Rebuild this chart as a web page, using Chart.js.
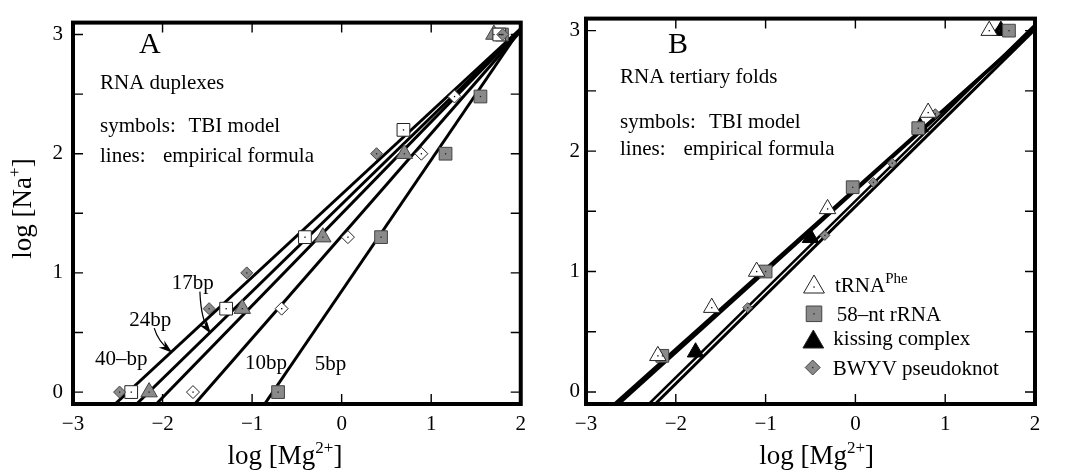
<!DOCTYPE html>
<html><head><meta charset="utf-8">
<script src="https://cdn.jsdelivr.net/npm/chart.js@4.4.0/dist/chart.umd.min.js"></script>
<style>
html,body{margin:0;padding:0;background:#fff;}
#wrap{position:relative;width:1068px;height:472px;overflow:hidden;}
.pane{position:absolute;top:0;width:534px;height:472px;}
canvas{display:block;}
</style></head><body>
<div id="wrap">
<div class="pane" style="left:0"><canvas id="cA" width="534" height="472"></canvas></div>
<div class="pane" style="left:534px"><canvas id="cB" width="534" height="472"></canvas></div>
</div>
<script>
// ---------- axes ----------
const xTicks = [-3, -2, -1, 0, 1, 2];
const xTickLabels = ['−3', '−2', '−1', '0', '1', '2'];
const yTicks = [0, 1, 2, 3];
const yTickLabels = ['0', '1', '2', '3'];
const yMarks = [0, 0.5, 1, 1.5, 2, 2.5, 3];
const xMarks = [-2, -1, 0, 1];

// ---------- Panel A: RNA duplexes, TBI model symbols ----------
const bp40Mg = [-2.48, -1.48, -1.06, 0.39, 1.80];
const bp40Na = [0, 0.7, 1.0, 2.0, 3.0];
const bp24Mg = [-2.35, -1.29, -0.41, 0.69, 1.76];
const bp24Na = [0, 0.7, 1.3, 2.2, 3.0];
const bp17Mg = [-2.15, -1.11, -0.21, 0.70, 1.70];
const bp17Na = [0, 0.7, 1.3, 2.0, 3.0];
const bp10Mg = [-1.66, -0.67, 0.07, 0.89, 1.26, 1.78];
const bp10Na = [0, 0.7, 1.3, 2.0, 2.48, 3.0];
const bp5Mg = [-0.71, 0.44, 1.16, 1.55, 1.79];
const bp5Na = [0, 1.3, 2.0, 2.48, 3.0];

// Panel A: empirical formula lines (end points)
const lineA1Mg = [-2.53, 2]; const lineA1Na = [-0.1, 3.05];
const lineA2Mg = [-2.29, 2]; const lineA2Na = [-0.1, 3.04];
const lineA3Mg = [-2.07, 2]; const lineA3Na = [-0.1, 3.04];
const lineA4Mg = [-1.64, 2]; const lineA4Na = [-0.1, 3.03];
const lineA5Mg = [-0.86, 2]; const lineA5Na = [-0.1, 3.05];

// ---------- Panel B: RNA tertiary folds ----------
const tRNAMg = [-2.20, -1.60, -1.10, -0.31, 0.81, 1.49];
const tRNANa = [0.3, 0.7, 1.0, 1.52, 2.32, 3.0];
const rRNAMg = [-2.15, -1.00, -0.03, 0.70, 1.71];
const rRNANa = [0.3, 1.0, 1.7, 2.19, 3.0];
const kissMg = [-1.78, -0.50, 0.72, 1.62];
const kissNa = [0.33, 1.28, 2.20, 3.0];
const bwyvMg = [-1.20, -0.34, 0.20, 0.41, 0.89, 1.60];
const bwyvNa = [0.7, 1.30, 1.74, 1.90, 2.31, 3.0];

const lineTRNAMg = [-2.68, 2]; const lineTRNANa = [-0.1, 3.02];
const lineRRNAMg = [-2.64, 2]; const lineRRNANa = [-0.1, 3.02];
const lineKissMg = [-2.30, 2]; const lineKissNa = [-0.1, 3.05];
const lineBwyvMg = [-2.23, 2]; const lineBwyvNa = [-0.1, 3.01];

// ---------- helpers ----------
const SERIF = '"Liberation Serif", "Times New Roman", serif';
const GRAY = '#8a8a8a';
function pts(xs, ys) { return xs.map((v, i) => ({x: v, y: ys[i]})); }
function lineDs(label, xs, ys, w) {
  return {label, data: pts(xs, ys), showLine: true, borderColor: '#000', borderWidth: w,
          pointRadius: 0, backgroundColor: '#000', order: 2};
}
function symDs(label, xs, ys, style, r, fill, stroke, dot) {
  return {label, data: pts(xs, ys), showLine: false, pointStyle: style, pointRadius: r,
          backgroundColor: fill, borderColor: stroke, borderWidth: 1, order: 1, clip: false, dot: dot};
}
function shape(ctx, style, x, y, r) {
  ctx.beginPath();
  if (style === 'triangle') {
    ctx.moveTo(x, y - r);
    ctx.lineTo(x + r * Math.sin(2 * Math.PI / 3), y - r * Math.cos(2 * Math.PI / 3));
    ctx.lineTo(x + r * Math.sin(4 * Math.PI / 3), y - r * Math.cos(4 * Math.PI / 3));
  } else if (style === 'rect') {
    const s = r * Math.SQRT1_2; ctx.rect(x - s, y - s, 2 * s, 2 * s);
  } else {
    ctx.moveTo(x - r, y); ctx.lineTo(x, y - r); ctx.lineTo(x + r, y); ctx.lineTo(x, y + r);
  }
  ctx.closePath();
}
function rich(ctx, parts, x, y, align) {
  let w = 0;
  parts.forEach(p => { ctx.font = p[1] + 'px ' + SERIF; w += ctx.measureText(p[0]).width; });
  let cx = align === 'center' ? x - w / 2 : x;
  ctx.textAlign = 'left';
  parts.forEach(p => {
    ctx.font = p[1] + 'px ' + SERIF;
    ctx.fillText(p[0], cx, y - (p[2] || 0));
    cx += ctx.measureText(p[0]).width;
  });
}
function text(ctx, s, x, y, size) {
  ctx.font = size + 'px ' + SERIF; ctx.textAlign = 'left'; ctx.textBaseline = 'alphabetic';
  ctx.fillText(s, x, y);
}
function arrow(ctx, p0, c, p1) {
  ctx.beginPath(); ctx.moveTo(p0[0], p0[1]); ctx.quadraticCurveTo(c[0], c[1], p1[0], p1[1]);
  ctx.lineWidth = 1.2; ctx.stroke();
  const a = Math.atan2(p1[1] - c[1], p1[0] - c[0]);
  const L = 11, W = 4.5;
  ctx.beginPath();
  ctx.moveTo(p1[0] + 3 * Math.cos(a), p1[1] + 3 * Math.sin(a));
  ctx.lineTo(p1[0] - L * Math.cos(a) + W * Math.sin(a), p1[1] - L * Math.sin(a) - W * Math.cos(a));
  ctx.lineTo(p1[0] - 0.6 * L * Math.cos(a), p1[1] - 0.6 * L * Math.sin(a));
  ctx.lineTo(p1[0] - L * Math.cos(a) - W * Math.sin(a), p1[1] - L * Math.sin(a) + W * Math.cos(a));
  ctx.closePath(); ctx.fill();
}

function frameAndDots(chart) {
  const {ctx, chartArea: a, scales: {x, y}} = chart;
  ctx.save();
  chart.data.datasets.forEach((ds, i) => {
    if (!ds.dot) return;
    ctx.fillStyle = ds.dot;
    chart.getDatasetMeta(i).data.forEach(el => ctx.fillRect(el.x - 0.6, el.y - 0.6, 1.3, 1.3));
  });
  ctx.strokeStyle = '#000'; ctx.lineWidth = 1.4;
  ctx.beginPath();
  yMarks.forEach(v => { const py = y.getPixelForValue(v);
    ctx.moveTo(a.left, py); ctx.lineTo(a.left + 10, py);
    ctx.moveTo(a.right, py); ctx.lineTo(a.right - 10, py); });
  xMarks.forEach(v => { const px = x.getPixelForValue(v);
    ctx.moveTo(px, a.bottom); ctx.lineTo(px, a.bottom - 10);
    ctx.moveTo(px, a.top); ctx.lineTo(px, a.top + 10); });
  ctx.stroke();
  ctx.lineWidth = 4;
  ctx.strokeRect(a.left, a.top, a.right - a.left, a.bottom - a.top);
  ctx.restore();
}

function makeChart(id, datasets, padRight, yWidth, yPad, extras) {
  return new Chart(document.getElementById(id), {
    type: 'scatter',
    data: {datasets},
    options: {
      responsive: false, animation: false, events: [], devicePixelRatio: 1,
      layout: {padding: {top: 13, right: padRight, left: 0, bottom: 0}},
      plugins: {legend: {display: false}, tooltip: {enabled: false}},
      scales: {
        x: {type: 'linear', min: -3, max: 2,
            afterFit: s => { s.height = 68; },
            afterBuildTicks: s => { s.ticks = xTicks.map(v => ({value: v})); },
            grid: {display: false, drawTicks: false, tickLength: 0}, border: {display: false},
            ticks: {padding: 8, color: '#000', maxRotation: 0, autoSkip: false,
                    font: {family: SERIF, size: 21},
                    callback: v => xTickLabels[xTicks.indexOf(v)]}},
        y: {type: 'linear', min: -0.1, max: 3.1,
            afterFit: s => { s.width = yWidth; },
            afterBuildTicks: s => { s.ticks = yTicks.map(v => ({value: v})); },
            grid: {display: false, drawTicks: false, tickLength: 0}, border: {display: false},
            ticks: {padding: yPad, color: '#000', autoSkip: false,
                    font: {family: SERIF, size: 21},
                    callback: v => yTickLabels[yTicks.indexOf(v)]}}
      }
    },
    plugins: [{id: 'extras', afterDatasetsDraw: chart => { frameAndDots(chart); extras(chart); }}]
  });
}

// ---------- Panel A ----------
makeChart('cA', [
  symDs('40bp (TBI)', bp40Mg, bp40Na, 'rectRot', 6, GRAY, '#444', '#222'),
  symDs('24bp (TBI)', bp24Mg, bp24Na, 'rect', 9, '#fff', '#222', '#000'),
  symDs('17bp (TBI)', bp17Mg, bp17Na, 'triangle', 9.5, GRAY, '#444', '#222'),
  symDs('10bp (TBI)', bp10Mg, bp10Na, 'rectRot', 6.5, '#fff', '#222', '#000'),
  symDs('5bp (TBI)', bp5Mg, bp5Na, 'rect', 9, GRAY, '#444', '#222'),
  lineDs('line 1', lineA1Mg, lineA1Na, 3),
  lineDs('line 2', lineA2Mg, lineA2Na, 3),
  lineDs('line 3', lineA3Mg, lineA3Na, 3),
  lineDs('line 4', lineA4Mg, lineA4Na, 3),
  lineDs('line 5', lineA5Mg, lineA5Na, 3)
], 12.3, 73, 10, chart => {
  const {ctx, scales: {x, y}} = chart;
  const P = (a, b) => [x.getPixelForValue(a), y.getPixelForValue(b)];
  ctx.save(); ctx.fillStyle = '#000'; ctx.strokeStyle = '#000';
  text(ctx, 'A', 139, 53, 30);
  text(ctx, 'RNA duplexes', 100, 89, 21);
  text(ctx, 'symbols:', 100, 131.7, 21); text(ctx, 'TBI model', 188.5, 131.7, 21);
  text(ctx, 'lines:', 100, 161.7, 21); text(ctx, 'empirical formula', 163, 161.7, 21);
  [['40–bp', -2.755, 0.224], ['24bp', -2.372, 0.551], ['17bp', -1.898, 0.864],
   ['10bp', -1.08, 0.196], ['5bp', -0.30, 0.182]].forEach(t => {
    const p = P(t[1], t[2]); text(ctx, t[0], p[0], p[1], 21); });
  arrow(ctx, P(-2.093, 0.537), P(-2.051, 0.428), P(-1.917, 0.346));
  arrow(ctx, P(-1.583, 0.843), P(-1.571, 0.608), P(-1.479, 0.51));
  ctx.textBaseline = 'alphabetic';
  rich(ctx, [['log [Mg', 27], ['2+', 17, 11], [']', 27]], 285, 464, 'center');
  ctx.save(); ctx.translate(31, 208.5); ctx.rotate(-Math.PI / 2);
  rich(ctx, [['log [Na', 27], ['+', 17, 11], [']', 27]], 0, 0, 'center');
  ctx.restore();
  ctx.restore();
});

// ---------- Panel B ----------
makeChart('cB', [
  symDs('tRNA Phe (TBI)', tRNAMg, tRNANa, 'triangle', 9.5, '#fff', '#222', '#000'),
  symDs('58-nt rRNA (TBI)', rRNAMg, rRNANa, 'rect', 9, GRAY, '#444', '#222'),
  symDs('kissing complex (TBI)', kissMg, kissNa, 'triangle', 9.5, '#000', '#000', null),
  symDs('BWYV pseudoknot (TBI)', bwyvMg, bwyvNa, 'rectRot', 5, GRAY, '#444', '#222'),
  lineDs('tRNA line', lineTRNAMg, lineTRNANa, 3.5),
  lineDs('rRNA line', lineRRNAMg, lineRRNANa, 3.5),
  lineDs('kissing line', lineKissMg, lineKissNa, 2.5),
  lineDs('BWYV line', lineBwyvMg, lineBwyvNa, 3)
], 33, 52, 6, chart => {
  const {ctx} = chart;
  ctx.save(); ctx.fillStyle = '#000'; ctx.strokeStyle = '#000';
  text(ctx, 'B', 134, 53, 30);
  text(ctx, 'RNA tertiary folds', 86, 83.3, 21);
  text(ctx, 'symbols:', 86, 128.3, 21); text(ctx, 'TBI model', 175, 128.3, 21);
  text(ctx, 'lines:', 86, 155, 21); text(ctx, 'empirical formula', 149.5, 155, 21);
  const leg = [
    ['triangle', 280, 287, 12, '#fff', '#000', 301, 291.7],
    ['rect', 280, 313.8, 11, GRAY, '#222', 302.7, 320.7],
    ['triangle', 279.3, 342, 12, '#000', null, 299.3, 345],
    ['rectRot', 278.7, 367.5, 7.5, GRAY, '#222', 298.7, 375]
  ];
  leg.forEach(l => {
    shape(ctx, l[0], l[1], l[2], l[3]);
    ctx.fillStyle = l[4]; ctx.fill();
    ctx.lineWidth = 1; ctx.strokeStyle = l[4] === GRAY ? '#444' : '#222'; ctx.stroke();
    if (l[5]) { ctx.fillStyle = l[5]; ctx.fillRect(l[1] - 0.6, l[2] - 0.6, 1.3, 1.3); }
  });
  ctx.fillStyle = '#000';
  rich(ctx, [['tRNA', 21], ['Phe', 15, 9]], 301, 291.7, 'left');
  text(ctx, '58–nt rRNA', 302.7, 320.7, 21);
  text(ctx, 'kissing complex', 299.3, 345, 21);
  text(ctx, 'BWYV pseudoknot', 298.7, 375, 21);
  rich(ctx, [['log [Mg', 27], ['2+', 17, 11], [']', 27]], 282.7, 464, 'center');
  ctx.restore();
});
</script>
</body></html>
